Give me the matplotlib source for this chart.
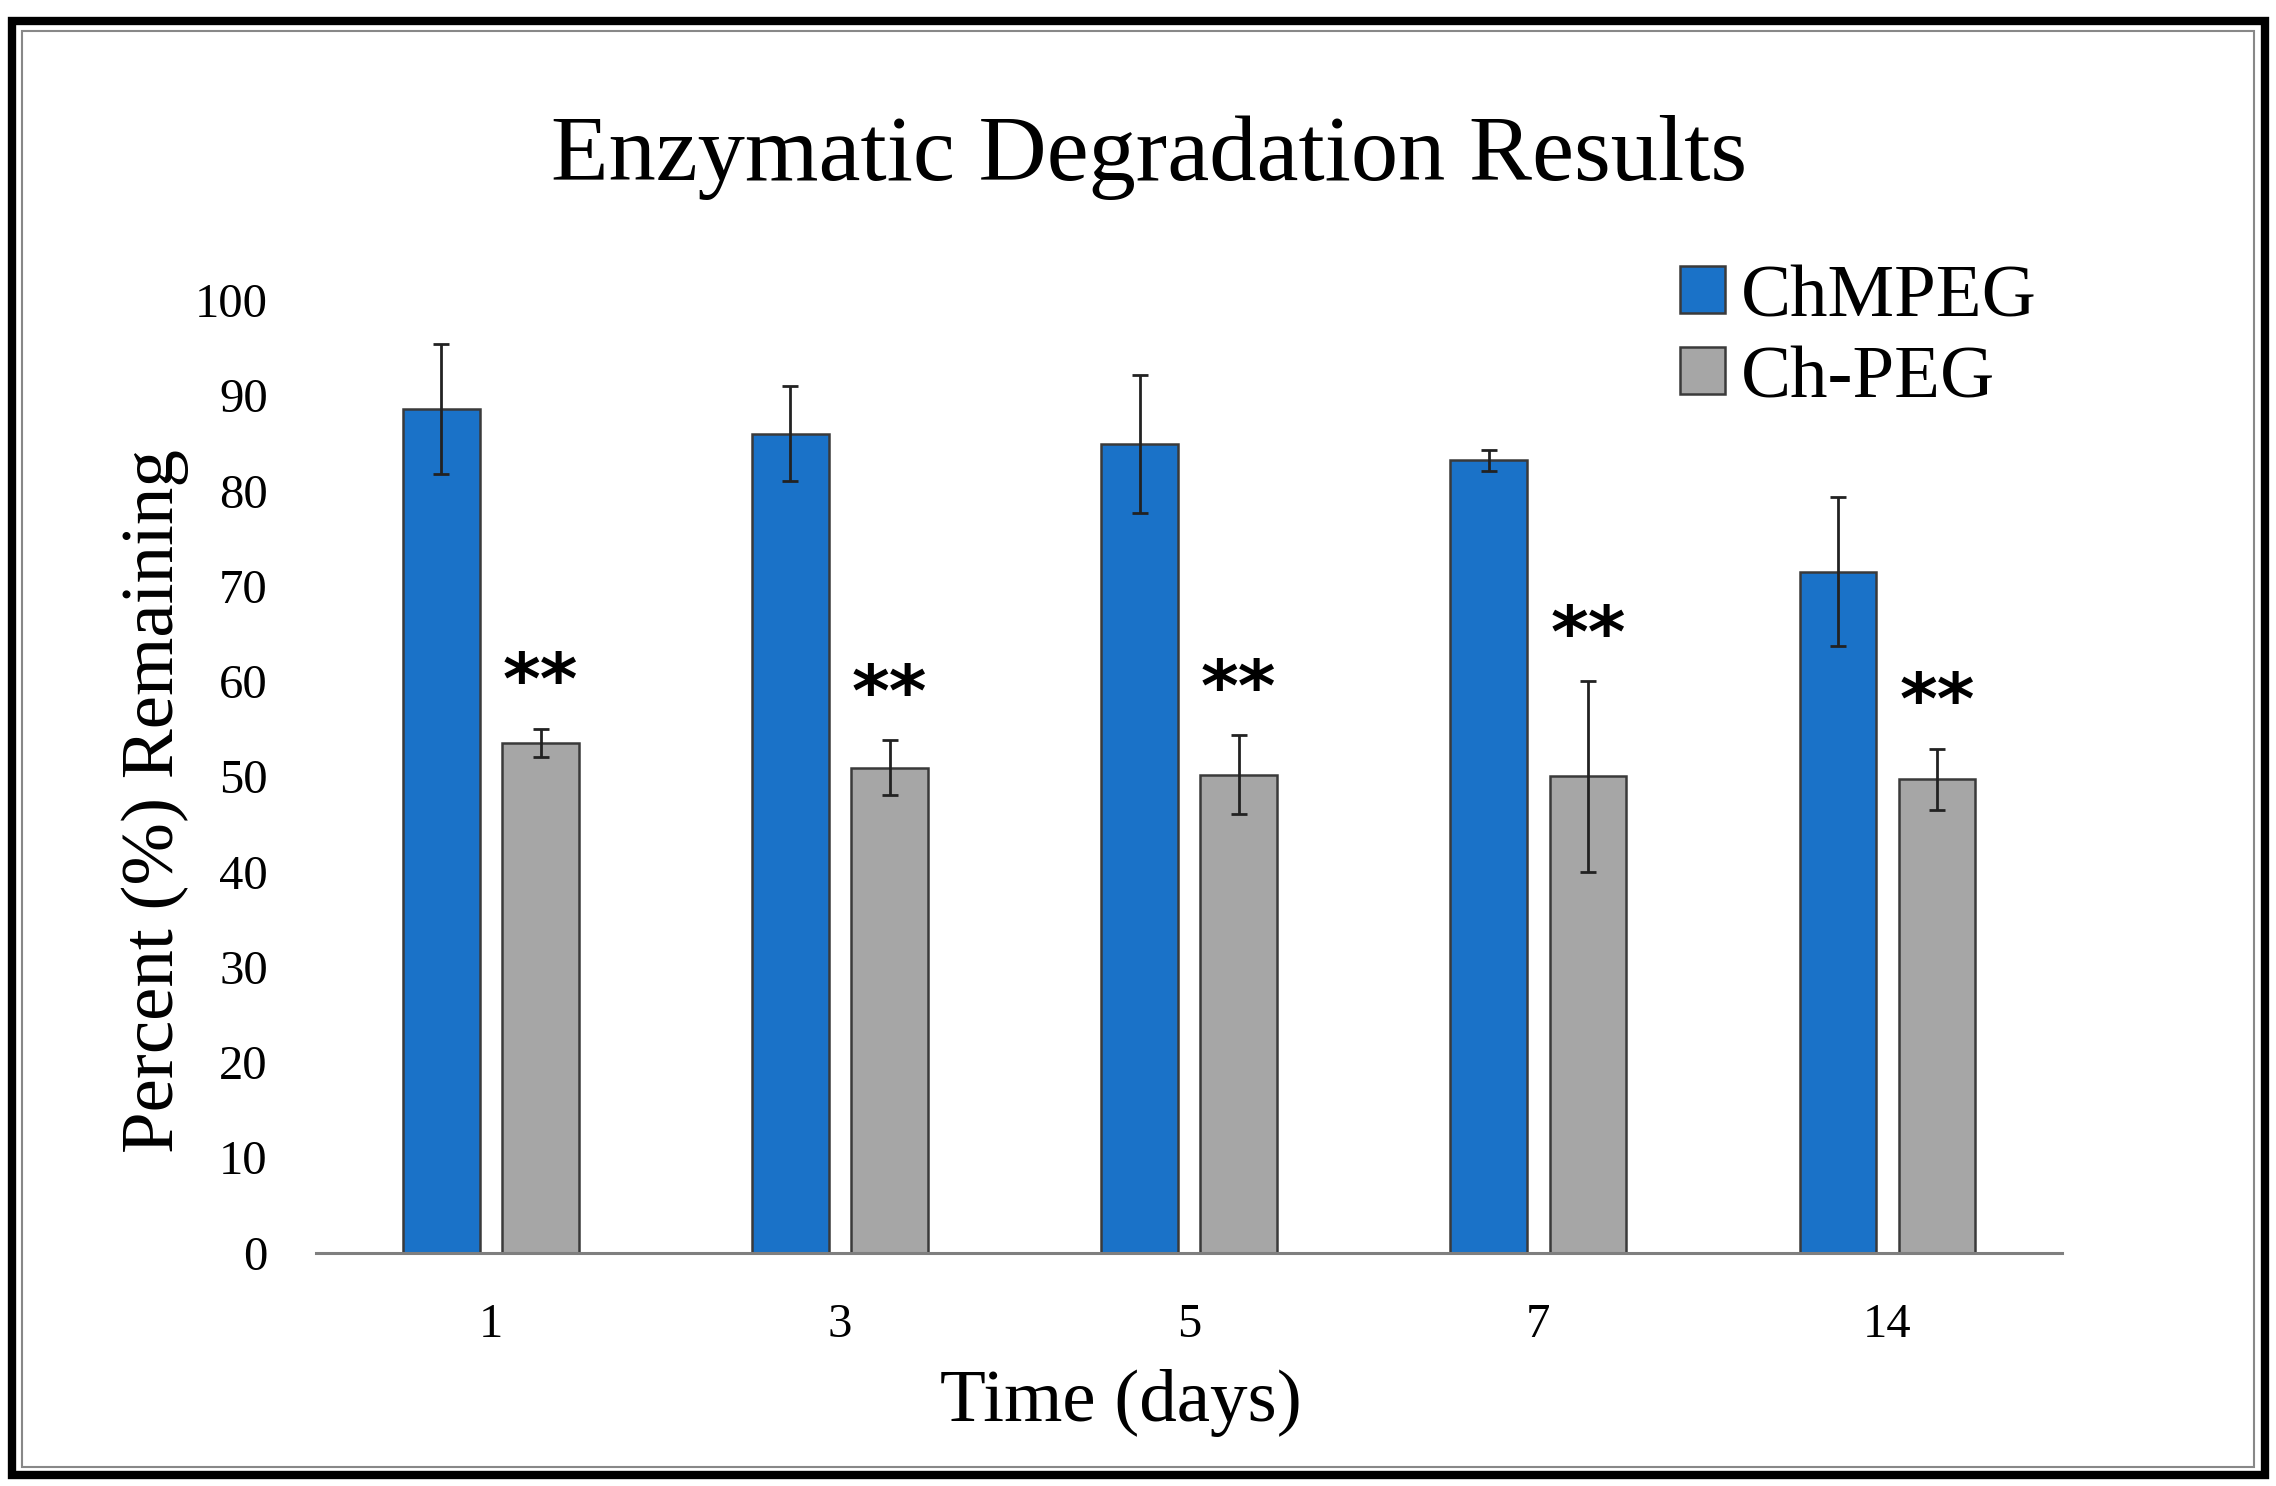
import matplotlib
matplotlib.use('Agg')
import matplotlib.pyplot as plt
import numpy as np
from matplotlib.patches import Rectangle

plt.rcParams['font.family'] = ['Liberation Serif', 'DejaVu Serif']

# data
days = ['1', '3', '5', '7', '14']
chmpeg = [88.6, 86.0, 84.9, 83.2, 71.5]
chmpeg_err = [6.8, 5.0, 7.2, 1.1, 7.8]
chpeg = [53.5, 50.9, 50.2, 50.0, 49.7]
chpeg_err = [1.5, 2.9, 4.1, 10.0, 3.2]
series_names = ['ChMPEG', 'Ch-PEG']

blue = '#1A72C8'
grey = '#A6A6A6'
edge = '#3a3a3a'

fig = plt.figure(figsize=(22.76, 14.86), dpi=100)
ax = fig.add_axes([0.139, 0.157, 0.767, 0.641])

x = np.arange(len(days))
w = 0.22
off = 0.142

err_kw = dict(ecolor='#222222', elinewidth=2.0, capsize=5.5, capthick=2.0)
ax.bar(x - off, chmpeg, w, yerr=chmpeg_err, color=blue, edgecolor=edge,
       linewidth=1.8, label=series_names[0], error_kw=err_kw)
ax.bar(x + off, chpeg, w, yerr=chpeg_err, color=grey, edgecolor=edge,
       linewidth=1.8, label=series_names[1], error_kw=err_kw)

# significance stars above the Ch-PEG bars
for xi, m, e in zip(x, chpeg, chpeg_err):
    ax.text(xi + off, m + e + 4.6, '**', ha='center', va='center',
            fontsize=52, fontweight='bold', family='DejaVu Sans')

ax.set_xlim(-0.5, 4.5)
ax.set_ylim(0, 100)
ax.set_yticks(range(0, 101, 10))
ax.set_xticks(x)
ax.set_xticklabels(days)
ax.tick_params(axis='both', length=0, labelsize=35)
ax.tick_params(axis='y', pad=35)
ax.tick_params(axis='x', pad=36)

for s in ['top', 'right', 'left']:
    ax.spines[s].set_visible(False)
ax.spines['bottom'].set_color('#7f7f7f')
ax.spines['bottom'].set_linewidth(2.2)

ax.set_ylabel('Percent (%) Remaining', fontsize=54)
ax.yaxis.set_label_coords(-0.073, 0.474)
ax.set_xlabel('Time (days)', fontsize=54)
ax.xaxis.set_label_coords(0.461, -0.122)

fig.text(0.505, 0.894, 'Enzymatic Degradation Results', ha='center',
         va='center', fontsize=68)

ax.legend(loc='upper left', bbox_to_anchor=(0.738, 0.822),
          bbox_transform=fig.transFigure, frameon=False, fontsize=54,
          handlelength=0.6, handleheight=0.6, handletextpad=0.22,
          labelspacing=0.18, borderpad=0, borderaxespad=0)

# picture frame
fig.patches.append(Rectangle((0.0053, 0.0074), 0.9899, 0.9786,
                             transform=fig.transFigure, fill=False,
                             edgecolor='black', linewidth=6))
fig.patches.append(Rectangle((0.0095, 0.0125), 0.981, 0.9665,
                             transform=fig.transFigure, fill=False,
                             edgecolor='#888888', linewidth=1.5))

fig.savefig('out.png', dpi=100)
